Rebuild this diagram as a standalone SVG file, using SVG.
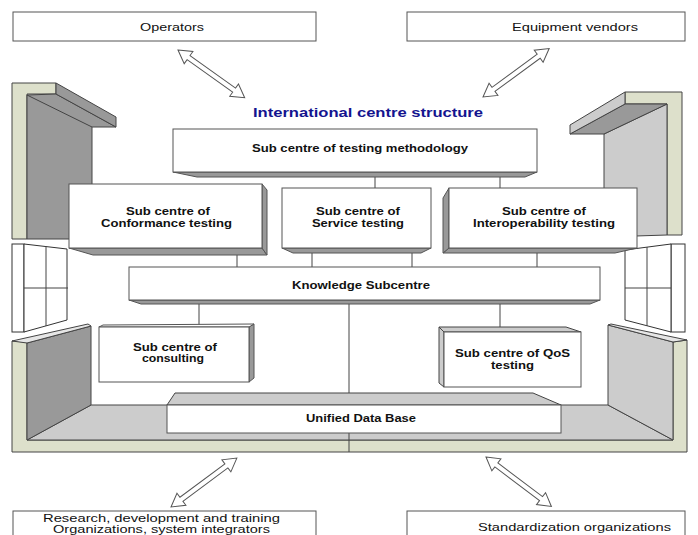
<svg xmlns="http://www.w3.org/2000/svg" width="698" height="535" viewBox="0 0 698 535">
<style>
.bx{fill:#fff;stroke:#555;stroke-width:1}
.sh{fill:#999;stroke:#555;stroke-width:1}
.lt{fill:#ccc;stroke:#444;stroke-width:1}
.dk{fill:#999;stroke:#444;stroke-width:1}
.bg{fill:#dde0cb;stroke:#444;stroke-width:1}
.win{fill:#fff;stroke:#333;stroke-width:1}
.t{font-family:"Liberation Sans",Arial,sans-serif;font-size:11px;fill:#111}
.b{font-family:"Liberation Sans",Arial,sans-serif;font-size:10px;font-weight:bold;fill:#111}
.ln{stroke:#444;stroke-width:1;fill:none}
.arr{fill:#fff;stroke:#555;stroke-width:1}
</style>
<defs>
<path id="dblarrow" class="arr" d="M0,0 L13,-7.5 L13,-2.5 L69,-2.5 L69,-7.5 L82,0 L69,7.5 L69,2.5 L13,2.5 L13,7.5 Z"/>
</defs>
<rect width="698" height="535" fill="#fff"/>

<g id="room">
  <polygon class="bg" points="12,83 56,83 56,94 27,94 27,239 12,239"/>
  <polygon class="dk" points="27,95 56,94 116,127 92,127 92,239 27,239"/>
  <polygon class="dk" points="56,83 116,117 116,127 56,94"/>
  <line class="ln" x1="27" y1="95" x2="92" y2="127"/>
  <polygon class="bg" points="625,92 682,92 682,235 667,235 667,104 625,104"/>
  <polygon class="lt" points="667,104 667,235 604,237 604,134"/>
  <polygon class="dk" points="625,104 667,104 604,134 570,134"/>
  <polygon class="lt" points="625,92 625,104 570,134 570,125"/>
  <rect class="win" x="12" y="244" width="12" height="88"/>
  <polygon class="win" points="24,244 67,249 67,320 24,332"/>
  <line class="ln" x1="46" y1="246" x2="46" y2="326"/>
  <line class="ln" x1="24" y1="288" x2="68" y2="288"/>
  <rect class="win" x="671" y="244" width="14" height="88"/>
  <polygon class="win" points="625,250 671,244 671,332 625,320"/>
  <line class="ln" x1="647" y1="247" x2="647" y2="326"/>
  <line class="ln" x1="625" y1="288" x2="671" y2="288"/>
  <polygon class="bg" points="12,341 27,342 27,440 673,440 673,342 687,340 687,452 12,452"/>
  <polygon class="lt" points="27,440 91,405 608,405 673,440"/>
  <polygon class="dk" points="27,343 91,326 91,405 27,440"/>
  <polygon fill="#e6e6e6" stroke="#444" stroke-width="1" points="12,341 88,324 91,326 27,343"/>
  <polygon class="lt" points="608,325 673,342 673,440 608,405"/>
  <polygon fill="#e6e6e6" stroke="#444" stroke-width="1" points="608,325 611,324 687,340 673,342"/>
</g>

<g id="connectors">
  <line class="ln" x1="375" y1="177" x2="375" y2="188"/>
  <line class="ln" x1="500" y1="177" x2="500" y2="188"/>
  <line class="ln" x1="237" y1="255" x2="237" y2="267"/>
  <line class="ln" x1="312" y1="253" x2="312" y2="267"/>
  <line class="ln" x1="412" y1="253" x2="412" y2="267"/>
  <line class="ln" x1="537" y1="253" x2="537" y2="267"/>
  <line class="ln" x1="199" y1="304" x2="199" y2="327"/>
  <line class="ln" x1="500" y1="304" x2="500" y2="327"/>
  <line class="ln" x1="349" y1="304" x2="349" y2="393"/>
  <line class="ln" x1="349" y1="433" x2="349" y2="452"/>
  <use href="#dblarrow" transform="translate(178,50) rotate(35.6)"/>
  <use href="#dblarrow" transform="translate(483,97) rotate(-36.2)"/>
  <use href="#dblarrow" transform="translate(171,507) rotate(-36.6)"/>
  <use href="#dblarrow" transform="translate(486,457) rotate(37.1)"/>
</g>

<g id="operators">
  <rect class="bx" x="13" y="12" width="303" height="29"/>
  <text class="t" x="140" y="31" textLength="64" lengthAdjust="spacingAndGlyphs">Operators</text>
</g>
<g id="vendors">
  <rect class="bx" x="407" y="12" width="278" height="29"/>
  <text class="t" x="512" y="31" textLength="126" lengthAdjust="spacingAndGlyphs">Equipment vendors</text>
</g>

<g id="title">
  <text x="253" y="117" textLength="230" lengthAdjust="spacingAndGlyphs" style="font-family:'Liberation Sans',Arial,sans-serif;font-size:12px;font-weight:bold;fill:#14148f">International centre structure</text>
</g>

<g id="methodology">
  <polygon class="sh" points="173,172 197,177 525,177 537,172"/>
  <rect class="bx" x="173" y="129" width="364" height="43"/>
  <text class="b" x="252" y="152" textLength="216" lengthAdjust="spacingAndGlyphs">Sub centre of testing methodology</text>
</g>

<g id="conformance">
  <polygon class="sh" points="69,248 93,255 267,255 262,248"/>
  <polygon class="sh" points="262,184 267,190 267,255 262,248"/>
  <rect class="bx" x="69" y="184" width="193" height="64"/>
  <text class="b" x="126" y="215" textLength="84" lengthAdjust="spacingAndGlyphs">Sub centre of</text>
  <text class="b" x="101" y="227" textLength="131" lengthAdjust="spacingAndGlyphs">Conformance testing</text>
</g>

<g id="service">
  <polygon class="sh" points="282,248 293,253 421,253 431,248"/>
  <rect class="bx" x="282" y="188" width="149" height="60"/>
  <text class="b" x="316" y="215" textLength="84" lengthAdjust="spacingAndGlyphs">Sub centre of</text>
  <text class="b" x="312" y="227" textLength="92" lengthAdjust="spacingAndGlyphs">Service testing</text>
</g>

<g id="interoperability">
  <polygon class="sh" points="443,253 449,248 637,248 615,253"/>
  <polygon class="sh" points="443,198 449,188 449,248 443,253"/>
  <rect class="bx" x="449" y="188" width="188" height="60"/>
  <text class="b" x="502" y="215" textLength="84" lengthAdjust="spacingAndGlyphs">Sub centre of</text>
  <text class="b" x="473" y="227" textLength="142" lengthAdjust="spacingAndGlyphs">Interoperability testing</text>
</g>

<g id="knowledge">
  <polygon class="sh" points="129,300 141,304 590,304 600,300"/>
  <rect class="bx" x="129" y="267" width="471" height="33"/>
  <text class="b" x="292" y="289" textLength="138" lengthAdjust="spacingAndGlyphs">Knowledge Subcentre</text>
</g>

<g id="consulting">
  <polygon class="sh" points="249,327 254,324 254,378 249,382"/>
  <polygon class="bx" points="99,327 103,325 254,324 249,327"/>
  <rect class="bx" x="99" y="327" width="150" height="55"/>
  <text class="b" x="133" y="351" textLength="84" lengthAdjust="spacingAndGlyphs">Sub centre of</text>
  <text class="b" x="142" y="362" textLength="62" lengthAdjust="spacingAndGlyphs">consulting</text>
</g>

<g id="qos">
  <polygon class="lt" points="439,327 566,327 581,332 444,332"/>
  <polygon class="lt" points="439,327 444,332 444,387 439,383"/>
  <rect class="bx" x="444" y="332" width="137" height="55"/>
  <text class="b" x="455" y="357" textLength="115" lengthAdjust="spacingAndGlyphs">Sub centre of QoS</text>
  <text class="b" x="491" y="369" textLength="43" lengthAdjust="spacingAndGlyphs">testing</text>
</g>

<g id="database">
  <polygon class="lt" points="167,405 175,393 533,393 561,405"/>
  <rect class="bx" x="167" y="405" width="394" height="28"/>
  <text class="b" x="306" y="422" textLength="110" lengthAdjust="spacingAndGlyphs">Unified Data Base</text>
</g>

<g id="research">
  <rect class="bx" x="13" y="511" width="303" height="30"/>
  <text class="t" x="43" y="522" textLength="237" lengthAdjust="spacingAndGlyphs">Research, development and training</text>
  <text class="t" x="53" y="533" textLength="217" lengthAdjust="spacingAndGlyphs">Organizations, system integrators</text>
</g>

<g id="standardization">
  <rect class="bx" x="407" y="511" width="278" height="30"/>
  <text class="t" x="478" y="531" textLength="193" lengthAdjust="spacingAndGlyphs">Standardization organizations</text>
</g>
</svg>
